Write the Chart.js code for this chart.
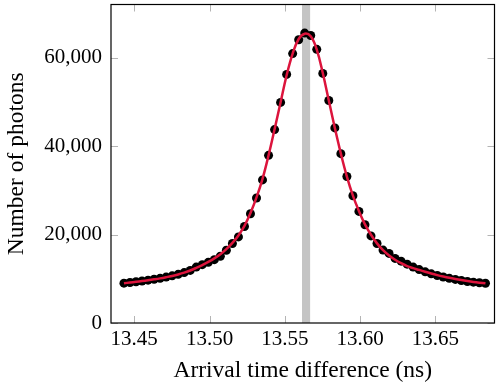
<!DOCTYPE html>
<html>
<head>
<meta charset="utf-8">
<script src="https://cdn.jsdelivr.net/npm/chart.js@4.4.0/dist/chart.umd.min.js"></script>
<style>
	html, body { margin: 0; padding: 0; background: #fff; }
</style>
</head>
<body>
<canvas id="chart" width="499" height="388"></canvas>
<script>
// Arrival time difference bins (ns)
const arrivalTimes = [
	13.4432, 13.4472, 13.4512, 13.4552, 13.4592, 13.4632, 13.4672, 13.4712, 13.4752, 13.4792,
	13.4832, 13.4872, 13.4912, 13.4952, 13.4992, 13.5032, 13.5072, 13.5112, 13.5152, 13.5192,
	13.5232, 13.5272, 13.5312, 13.5352, 13.5392, 13.5432, 13.5472, 13.5512, 13.5552, 13.5592,
	13.5632, 13.5672, 13.5712, 13.5752, 13.5792, 13.5832, 13.5872, 13.5912, 13.5952, 13.5992,
	13.6032, 13.6072, 13.6112, 13.6152, 13.6192, 13.6232, 13.6272, 13.6312, 13.6352, 13.6392,
	13.6432, 13.6472, 13.6512, 13.6552, 13.6592, 13.6632, 13.6672, 13.6712, 13.6752, 13.6792,
	13.6832
];

// Measured photon counts per bin
const photonCounts = [
	9005, 9162, 9318, 9498, 9677, 9878, 10102, 10371, 10662, 10998,
	11402, 11894, 12634, 13194, 13709, 14314, 15098, 16442, 17965, 19466,
	21818, 24685, 28269, 32346, 37901, 43725, 49862, 56202, 60906, 64042,
	65542, 65005, 61869, 56426, 50310, 44106, 38282, 33130, 28762, 25222,
	22221, 19690, 17965, 16486, 15725, 14605, 13978, 13306, 12634, 12074,
	11558, 11110, 10730, 10394, 10102, 9856, 9610, 9386, 9229, 9094,
	8982
];

// Fitted curve at the same bins
const fitCounts = [
	8990, 9150, 9310, 9480, 9670, 9870, 10090, 10350, 10640, 10980,
	11380, 11860, 12450, 13100, 13800, 14600, 15550, 16700, 18100, 19800,
	21950, 24850, 28400, 32600, 37900, 43800, 49900, 56000, 60900, 64200,
	65400, 64800, 61800, 56500, 50300, 44100, 38300, 33100, 28800, 25300,
	22300, 19950, 18000, 16450, 15250, 14300, 13520, 12870, 12400, 12000,
	11580, 11180, 10820, 10500, 10210, 9950, 9710, 9490, 9290, 9120,
	8970
];

// Shaded marker band (ns)
const bandStart = 13.5614;
const bandEnd = 13.5668;

const xTicks = [13.45, 13.50, 13.55, 13.60, 13.65];
const yTicks = [0, 20000, 40000, 60000];

const TICK_FONT = { family: '"Liberation Serif", "DejaVu Serif", serif', size: 21 };
const TITLE_FONT = { family: '"Liberation Serif", "DejaVu Serif", serif', size: 23.5 };

// Gray band behind the data
const bandPlugin = {
	id: 'band',
	beforeDatasetsDraw(chart) {
		const { ctx, chartArea, scales } = chart;
		const x0 = scales.x.getPixelForValue(bandStart);
		const x1 = scales.x.getPixelForValue(bandEnd);
		ctx.save();
		ctx.fillStyle = '#c4c4c4';
		ctx.fillRect(x0, chartArea.top, x1 - x0, chartArea.bottom - chartArea.top);
		ctx.restore();
	}
};

// pgfplots style frame with inward tick marks
const framePlugin = {
	id: 'frame',
	afterDatasetsDraw(chart) {
		const { ctx, chartArea: a, scales } = chart;
		const len = 7;
		ctx.save();
		ctx.strokeStyle = '#b4b4b4';
		ctx.lineWidth = 1;
		ctx.beginPath();
		xTicks.forEach(v => {
			const px = Math.round(scales.x.getPixelForValue(v)) + 0.5;
			ctx.moveTo(px, a.bottom); ctx.lineTo(px, a.bottom - len);
			ctx.moveTo(px, a.top); ctx.lineTo(px, a.top + len);
		});
		yTicks.forEach(v => {
			const py = Math.round(scales.y.getPixelForValue(v)) + 0.5;
			ctx.moveTo(a.left, py); ctx.lineTo(a.left + len, py);
			ctx.moveTo(a.right, py); ctx.lineTo(a.right - len, py);
		});
		ctx.stroke();
		ctx.strokeStyle = '#000';
		ctx.lineWidth = 1.2;
		ctx.strokeRect(a.left, a.top, a.right - a.left, a.bottom - a.top);
		ctx.restore();
	}
};

const ctx = document.getElementById('chart').getContext('2d');
new Chart(ctx, {
	type: 'scatter',
	data: {
		datasets: [
			{
				label: 'Fit',
				data: arrivalTimes.map((x, i) => ({ x, y: fitCounts[i] })),
				showLine: true,
				borderColor: 'rgb(220, 20, 60)',
				borderWidth: 2.5,
				pointRadius: 0,
				tension: 0.4,
				order: 0
			},
			{
				label: 'Data',
				data: arrivalTimes.map((x, i) => ({ x, y: photonCounts[i] })),
				showLine: false,
				backgroundColor: '#000',
				borderWidth: 0,
				pointRadius: 4.5,
				order: 1
			}
		]
	},
	options: {
		responsive: false,
		animation: false,
		layout: { padding: { top: -2, right: 2, left: 0, bottom: 0 } },
		plugins: {
			legend: { display: false },
			tooltip: { enabled: false }
		},
		scales: {
			x: {
				type: 'linear',
				min: 13.4346,
				max: 13.6892,
				grid: { display: false, drawTicks: false },
				border: { display: false },
				afterBuildTicks: s => { s.ticks = xTicks.map(v => ({ value: v })); },
				afterFit: s => { s.height = 65; s.paddingLeft = 0; s.paddingRight = 0; },
				ticks: {
					color: '#000',
					font: TICK_FONT,
					padding: 4,
					maxRotation: 0,
					callback: v => v.toFixed(2)
				},
				title: {
					display: true,
					text: 'Arrival time difference (ns)',
					color: '#000',
					font: TITLE_FONT,
					padding: { top: 3, bottom: 3 }
				}
			},
			y: {
				min: 0,
				max: 72000,
				grid: { display: false, drawTicks: false },
				border: { display: false },
				afterBuildTicks: s => { s.ticks = yTicks.map(v => ({ value: v })); },
				afterFit: s => { s.width = 111; s.paddingTop = 0; s.paddingBottom = 0; },
				ticks: {
					color: '#000',
					font: TICK_FONT,
					padding: 9,
					callback: v => v.toLocaleString('en-US')
				},
				title: {
					display: true,
					text: 'Number of photons',
					color: '#000',
					font: TITLE_FONT,
					padding: { top: 3, bottom: 3 }
				}
			}
		}
	},
	plugins: [bandPlugin, framePlugin]
});
</script>
</body>
</html>
